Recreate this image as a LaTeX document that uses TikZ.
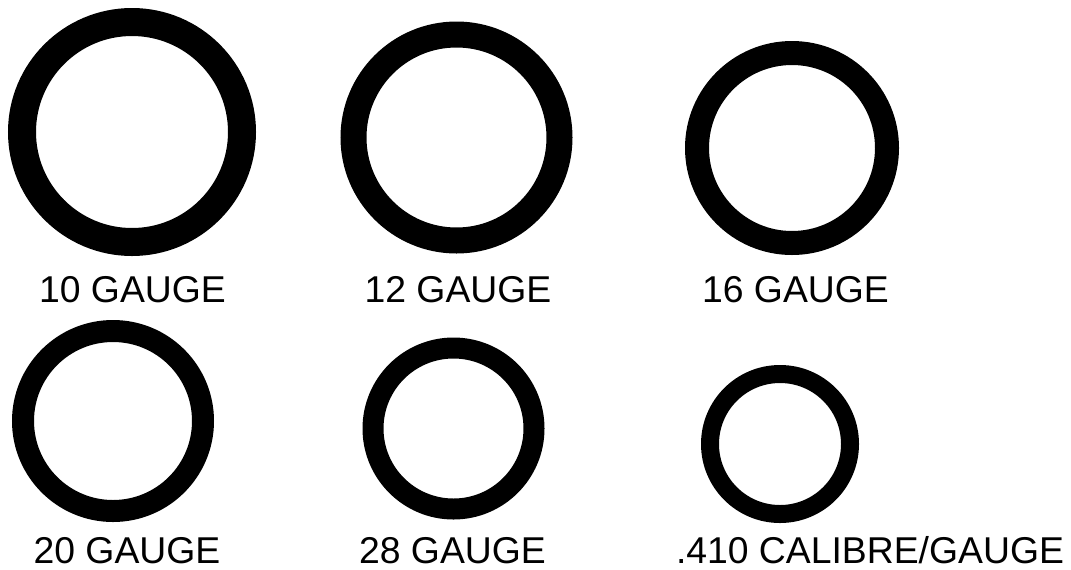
\documentclass[tikz,border=0pt]{standalone}
\usepackage{fontspec}
\setmainfont{Liberation Sans}
\tikzset{
  ring/.style={circle,draw,inner sep=0pt,outer sep=0pt},
  gaugelabel/.style={anchor=base,inner sep=0pt,font=\fontsize{28}{34}\selectfont}
}
\begin{document}
\begin{tikzpicture}[x=0.75pt,y=-0.75pt]
    \useasboundingbox (0,0) rectangle (1071,569);
    % rings: name/x/y/radius/thickness
    \foreach \n/\x/\y/\r/\w in {g10/132/132/110/28,g12/456.5/137.5/103/26,g16/792/148/95/24,
                                g20/113/421/90/22,g28/453.5/428.5/80.5/21,g410/780/444/70/18}
      {\node[ring,line width=\w*0.75pt,minimum size=2*\r*0.75pt] (\n) at (\x,\y) {};}
    % labels
    \foreach \n/\x/\y/\t in {l10/132.5/302/{10 GAUGE},l12/458/302/{12 GAUGE},l16/795.5/302/{16 GAUGE},
                             l20/127/563/{20 GAUGE},l28/452.5/563/{28 GAUGE},l410/870/563/{.410 CALIBRE/GAUGE}}
      {\node[gaugelabel] (\n) at (\x,\y) {\t};}
  \end{tikzpicture}
\end{document}
